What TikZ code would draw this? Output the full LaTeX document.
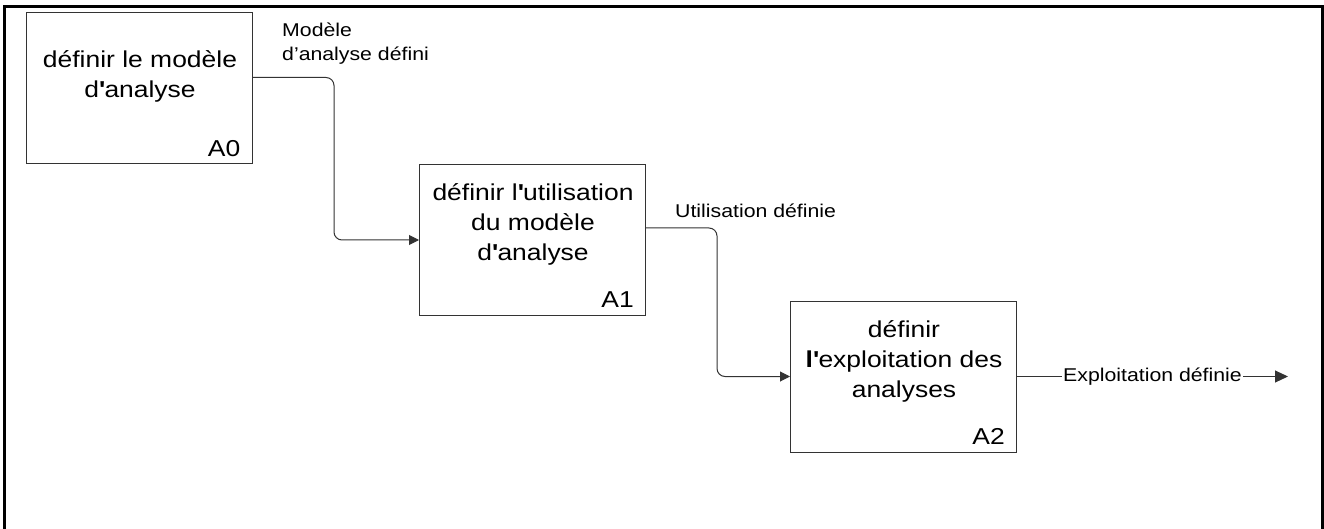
\documentclass[tikz,border=0pt]{standalone}
\usepackage{fontspec}
\setmainfont{Liberation Sans}[FakeStretch=1.15]
\usetikzlibrary{arrows.meta}

\tikzset{
  procbox/.style={draw=black!80, line width=1pt, minimum width=226pt, minimum height=151pt, inner sep=0pt},
  proctext/.style={align=center, font=\fontsize{23}{30}\selectfont, inner sep=0pt},
  procid/.style={anchor=south east, font=\fontsize{23}{28}\selectfont, inner xsep=12pt, inner ysep=8pt},
  flow/.style={draw=black!80, line width=1pt, rounded corners=8pt, -{Triangle[length=10pt,width=10pt]}},
  flowlabel/.style={font=\fontsize{18.5}{24}\selectfont, inner sep=0pt, align=left}
}

\begin{document}
\begin{tikzpicture}[x=1pt,y=-1pt]
  \useasboundingbox (0,0) rectangle (1324,529);
  % frame
  \draw[line width=3pt] (4.5,529) -- (4.5,6.5) -- (1322.5,6.5) -- (1322.5,529);

  % Boxes
  \node[procbox] (a0) at (139,88.5) {};
  \node[procbox] (a1) at (532.5,240) {};
  \node[procbox] (a2) at (903.5,376.5) {};

  % Box texts
  \node[proctext] (a0t) at (140,76) {définir le modèle\\d{\bfseries\textquotesingle}analyse};
  \node[proctext] (a1t) at (533,224) {définir l{\bfseries\textquotesingle}utilisation\\du modèle\\d{\bfseries\textquotesingle}analyse};
  \node[proctext] (a2t) at (904,361) {définir\\\textbf{l\textquotesingle}exploitation des\\analyses};
  \node[procid] (a0id) at (a0.south east) {A0};
  \node[procid] (a1id) at (a1.south east) {A1};
  \node[procid] (a2id) at (a2.south east) {A2};

  % Bends and free end
  \coordinate (k1) at (334,240);
  \coordinate (k2) at (717,376.5);
  \coordinate (out) at (1288,376.5);

  % Flows
  \draw[flow] ([yshift=11pt]a0.east) -| (k1) -- (a1.west);
  \draw[flow] ([yshift=12pt]a1.east) -| (k2) -- (a2.west);
  \draw[flow, -{Triangle[length=13pt,width=12pt]}] (a2.east) --
    node[flowlabel, fill=white, inner xsep=1pt] (lx) {Exploitation définie} (out);

  % Flow labels
  \node[flowlabel, anchor=north west] (l0) at (282,23) {Modèle\\d’analyse défini};
  \node[flowlabel, anchor=base west] (l1) at (675,218) {Utilisation définie};
\end{tikzpicture}
\end{document}
